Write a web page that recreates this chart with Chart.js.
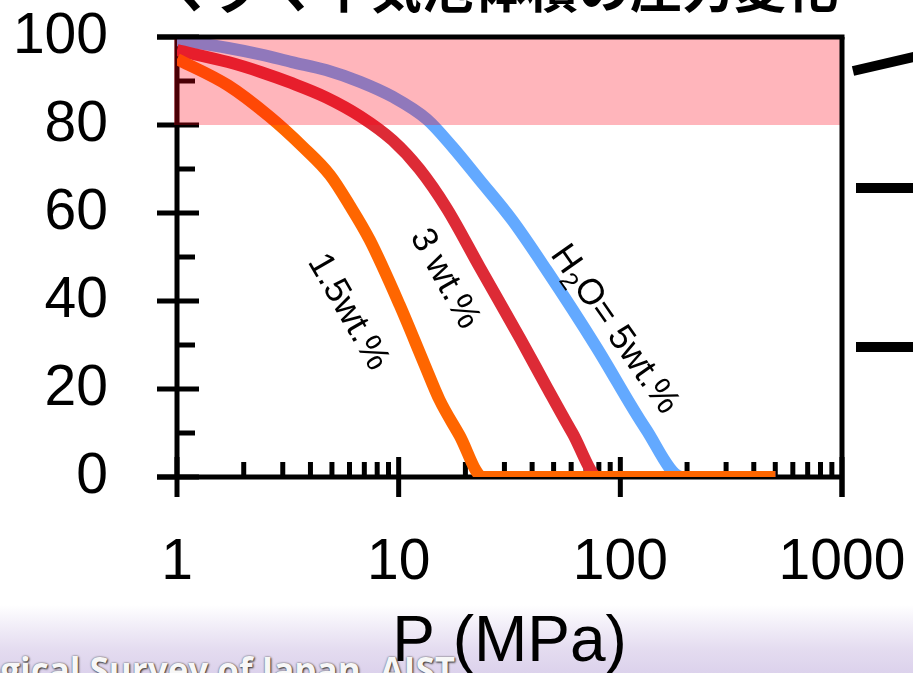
<!DOCTYPE html>
<html>
<head>
<meta charset="utf-8">
<script src="https://cdn.jsdelivr.net/npm/chart.js@4.4.1/dist/chart.umd.min.js"></script>
<style>
  html, body { margin: 0; padding: 0; background: #fff; overflow: hidden; }
  #wrap { position: relative; width: 913px; height: 673px; overflow: hidden; }
  #footer {
    position: absolute; left: 0; top: 605px; width: 913px; height: 68px;
    background: linear-gradient(to bottom, #ffffff 0%, #f2eef8 30%, #e4dcf0 65%, #dcd2ec 100%);
  }
  #footer span {
    position: absolute; right: 458px; top: 47px; white-space: nowrap;
    font: bold 35px "Open Sans", sans-serif; line-height: 1; color: #f7f7f7;
    text-shadow: 1px 1px 2px #333, 0 0 2px #555;
  }
  #title {
    position: absolute; left: 162px; top: -40px; white-space: nowrap;
    font: bold 52px "Noto Sans CJK JP", sans-serif; line-height: 52px; color: #000;
  }
  .bar { position: absolute; background: #000; }
  #c { position: absolute; left: 0; top: 0; }
</style>
</head>
<body>
<div id="wrap">
  <div id="footer"><span>Geological Survey of Japan, AIST</span></div>
  <div id="title">マグマ中気泡体積の圧力変化</div>
  <div class="bar" style="left:856px;top:183px;width:60px;height:10px;"></div>
  <div class="bar" style="left:856px;top:342px;width:60px;height:10px;"></div>
  <div class="bar" style="left:853px;top:66px;width:66px;height:10px;transform:rotate(-13deg);transform-origin:0 50%;"></div>
  <canvas id="c" width="913" height="673"></canvas>
</div>
<script>
// axes
const xTickValues = [1, 10, 100, 1000];
const xMinorTicks = [2, 3, 4, 5, 6, 7, 8, 9, 20, 30, 40, 50, 60, 70, 80, 90, 200, 300, 400, 500, 600, 700, 800, 900];
const yTickValues = [0, 20, 40, 60, 80, 100];
const yMinorTicks = [10, 30, 50, 70, 90];
const highlightRange = [80, 100];

// H2O = 1.5 wt.%
const pressure15 = [1, 1.7, 2.6, 3.7, 4.9, 6.0, 7.4, 10.1, 13.1, 15.3, 18.8, 24, 500];
const volume15 = [95, 89, 82, 75, 68.6, 61.8, 53.9, 39.1, 25.5, 17.5, 9.5, 0, 0];
// H2O = 3 wt.%
const pressure3 = [1, 1.7, 2.4, 3.3, 4.7, 6.7, 9.4, 12.4, 16.5, 23.2, 35.3, 46.5, 60.8, 80, 500];
const volume3 = [97, 94.3, 92, 89.5, 86.3, 82, 76.5, 70, 61, 47.7, 31.5, 20.5, 10, 0, 0];
// H2O = 5 wt.%
const pressure5 = [1, 1.7, 2.4, 3.3, 4.7, 6.7, 9.4, 13.4, 17.5, 23.2, 32.5, 46.5, 78, 130, 190, 500];
const volume5 = [99.3, 97.5, 96, 94.3, 92.5, 89.8, 86.4, 81.3, 75, 67.5, 58.4, 47, 29.5, 11, 0, 0];

// curve labels (text pieces, subscript flag) and where they sit in data units
const labelParts = [
  [['1.5wt.%', 0]],
  [['3 wt.%', 0]],
  [['H', 0], ['2', 1], ['O= 5wt.%', 0]]
];
const labelPressure = [5.9, 16.1, 94];
const labelVolume = [37.5, 45, 33.5];
const labelAngle = [60, 61, 55];

const FONT = '"Liberation Sans", Arial, sans-serif';

function pts(xs, ys) {
  return xs.map((x, i) => ({ x: x, y: ys[i] }));
}

function seg(ctx, x1, y1, x2, y2) {
  ctx.beginPath();
  ctx.moveTo(x1, y1);
  ctx.lineTo(x2, y2);
  ctx.stroke();
}

function noPadding(s) {
  s.paddingLeft = 0;
  s.paddingRight = 0;
  s.paddingTop = 0;
  s.paddingBottom = 0;
}

const axesPlugin = {
  id: 'axesPlugin',
  beforeDatasetsDraw(chart) {
    const { ctx, chartArea: a, scales: { x, y } } = chart;
    ctx.save();
    ctx.strokeStyle = '#000';
    ctx.lineWidth = 5;
    seg(ctx, a.left, a.top, a.left, a.bottom);
    seg(ctx, a.left - 20, a.bottom, a.right, a.bottom);
    yTickValues.forEach(v => {
      const py = y.getPixelForValue(v);
      seg(ctx, a.left - 20, py, a.left + 22, py);
    });
    yMinorTicks.forEach(v => {
      const py = y.getPixelForValue(v);
      seg(ctx, a.left, py, a.left + 18, py);
    });
    xTickValues.forEach(v => {
      const px = x.getPixelForValue(v);
      seg(ctx, px, a.bottom - 20, px, a.bottom + 20);
    });
    xMinorTicks.forEach(v => {
      const px = x.getPixelForValue(v);
      seg(ctx, px, a.bottom - 15, px, a.bottom);
    });
    ctx.restore();
  },
  afterDatasetsDraw(chart) {
    const { ctx, chartArea: a, scales: { y } } = chart;
    const top = y.getPixelForValue(highlightRange[1]);
    const bot = y.getPixelForValue(highlightRange[0]);
    ctx.save();
    ctx.fillStyle = 'rgba(255, 0, 20, 0.29)';
    ctx.fillRect(a.left - 3, top, a.right - a.left + 3, bot - top);
    ctx.strokeStyle = '#000';
    ctx.lineWidth = 5;
    seg(ctx, a.left - 20, a.top, a.right + 2.5, a.top);
    seg(ctx, a.right, a.top, a.right, a.bottom + 20);
    ctx.restore();
  },
  afterDraw(chart) {
    const { ctx, scales: { x, y } } = chart;
    const size = 36;
    ctx.save();
    ctx.fillStyle = '#000';
    ctx.textBaseline = 'middle';
    labelParts.forEach((parts, i) => {
      let w = 0;
      parts.forEach(([t, sub]) => {
        ctx.font = (sub ? size * 0.7 : size) + 'px ' + FONT;
        w += ctx.measureText(t).width;
      });
      ctx.save();
      ctx.translate(x.getPixelForValue(labelPressure[i]), y.getPixelForValue(labelVolume[i]));
      ctx.rotate(labelAngle[i] * Math.PI / 180);
      let cx = -w / 2;
      parts.forEach(([t, sub]) => {
        ctx.font = (sub ? size * 0.7 : size) + 'px ' + FONT;
        ctx.fillText(t, cx, sub ? size * 0.3 : 0);
        cx += ctx.measureText(t).width;
      });
      ctx.restore();
    });
    ctx.restore();
  }
};

new Chart(document.getElementById('c'), {
  type: 'line',
  data: {
    datasets: [
      { label: 'H2O= 5wt.%', data: pts(pressure5, volume5), borderColor: '#63a9ff', order: 3 },
      { label: '3 wt.%', data: pts(pressure3, volume3), borderColor: '#dd2b36', order: 2 },
      { label: '1.5wt.%', data: pts(pressure15, volume15), borderColor: '#ff6600', order: 1 }
    ]
  },
  options: {
    responsive: false,
    animation: false,
    layout: { padding: { left: 15, top: 37, right: 71, bottom: 0 } },
    elements: {
      line: { borderWidth: 12, cubicInterpolationMode: 'monotone', fill: false },
      point: { radius: 0, hoverRadius: 0 }
    },
    plugins: {
      legend: { display: false },
      tooltip: { enabled: false }
    },
    scales: {
      x: {
        type: 'logarithmic',
        min: 1,
        max: 1000,
        afterBuildTicks: s => { s.ticks = xTickValues.map(v => ({ value: v, major: true })); },
        afterFit: s => { s.height = 196; noPadding(s); },
        grid: { display: false, drawTicks: false },
        border: { display: false },
        ticks: {
          autoSkip: false,
          maxRotation: 0,
          padding: 52,
          color: '#000',
          font: { family: FONT, size: 57 },
          callback: v => String(v)
        },
        title: {
          display: true,
          text: 'P (MPa)',
          color: '#000',
          padding: 0,
          font: { family: FONT, size: 64, lineHeight: 0.92 }
        }
      },
      y: {
        min: 0,
        max: 100,
        afterFit: s => { s.width = 162; noPadding(s); },
        grid: { display: false, drawTicks: false },
        border: { display: false },
        ticks: {
          stepSize: 20,
          padding: 69,
          color: '#000',
          font: { family: FONT, size: 57 }
        }
      }
    }
  },
  plugins: [axesPlugin]
});
</script>
</body>
</html>
